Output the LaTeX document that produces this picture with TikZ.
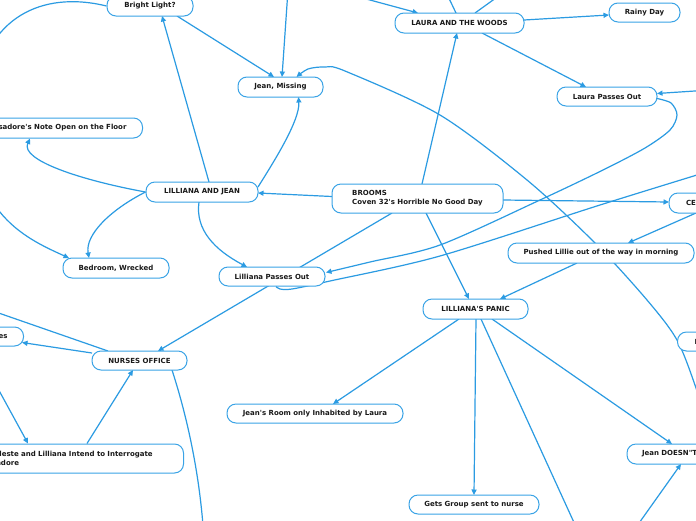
\documentclass[tikz,border=0pt]{standalone}
\usepackage{fontspec}
\setmainfont{DejaVu Sans}
\usetikzlibrary{arrows.meta,calc}
\definecolor{edgec}{RGB}{43,155,226}
\definecolor{boxc}{RGB}{58,163,230}
\definecolor{txt}{RGB}{25,25,25}
\pgfdeclarelayer{edges}
\pgfsetlayers{edges,main}
\begin{document}
\begin{tikzpicture}[x=1pt,y=-1pt,
  box/.style={draw=boxc, fill=white, line width=1pt, rounded corners=9pt, minimum height=20pt,
    inner xsep=0pt, inner ysep=0pt, text=txt, font=\fontsize{7}{9}\selectfont\bfseries},
  conn/.style={draw=edgec, line width=1.2pt},
  arr/.style={conn, -{Triangle[length=5.5pt,width=5pt]}}]
\useasboundingbox (0,0) rectangle (696,520);
\clip (0,0) rectangle (696,520);
% nodes
\node[box, minimum width=86pt] (bright) at (150,6) {Bright Light?};
\node[box, minimum width=85pt] (jm) at (280.5,87) {Jean, Missing};
\node[box, anchor=east, inner xsep=16pt] (note) at (143,128) {Isadore\textquotesingle s Note Open on the Floor};
\node[box, minimum width=112pt] (lj) at (202,192) {LILLIANA AND JEAN};
\node[box, minimum width=106pt] (bedroom) at (116,268) {Bedroom, Wrecked};
\node[box, minimum width=106pt, minimum height=19pt] (lpo) at (272,276.5) {Lilliana Passes Out};
\node[box, minimum width=171pt, minimum height=29pt, align=left] (brooms) at (417.5,198.5) {BROOMS\\Coven 32\textquotesingle s Horrible No Good Day};
\node[box, minimum width=129pt] (laura) at (459.5,23) {LAURA AND THE WOODS};
\node[box, minimum width=71pt, minimum height=19pt] (rainy) at (644.5,12.5) {Rainy Day};
\node[box, minimum width=100pt, minimum height=19pt] (lapo) at (607,96.5) {Laura Passes Out};
\node[box, minimum width=104pt, text width=70pt, align=left] (ce) at (721,203) {CELESTE};
\node[box, minimum width=186pt] (pushed) at (601,253) {Pushed Lillie out of the way in morning};
\node[box, minimum width=105pt] (panic) at (475.5,309) {LILLIANA\textquotesingle S PANIC};
\node[box, anchor=west, inner xsep=17pt, minimum height=19pt] (nn) at (677,341.5) {N};
\node[box, minimum width=122pt, text width=92pt, align=left] (jd) at (688,454) {Jean DOESN\textquotedbl T};
\node[box, minimum width=130pt, minimum height=19pt] (gets) at (474,504.5) {Gets Group sent to nurse};
\node[box, minimum width=176pt, minimum height=19pt] (jroom) at (315,413.5) {Jean\textquotesingle s Room only Inhabited by Laura};
\node[box, minimum width=95pt, minimum height=19pt] (nurses) at (139.5,360.5) {NURSES OFFICE};
\node[box, anchor=east, inner xsep=16pt, minimum height=19pt] (es) at (24,336.5) {es};
\node[box, anchor=east, inner xsep=17pt, text width=177pt, align=left, minimum height=29pt] (celeste) at (184,458.5) {Celeste and Lilliana Intend to Interrogate\\Isadore};
% connectors
\begin{pgfonlayer}{edges}
\fill[white] (0,0) rectangle (696,520);
\clip (0,0) rectangle (696,520);
\draw[arr] (bright.west) .. controls (50,-8) and (-10,10) .. (-25,90) .. controls (-40,210) and (25,238) .. ($(bedroom)+(-47,-10)$);
\draw[arr] ($(bright)+(27,10)$) -- ($(jm)+(-6.5,-10)$);
\coordinate (t1) at (288,-10);
\draw[arr] (t1) -- ($(jm)+(1.5,-10)$);
\coordinate (jmtr) at ($(jm)+(16,-10)$);
\coordinate (far1) at (705,420);
\draw[arr] plot[smooth, tension=0.5] coordinates {(far1) (696,388) (677,340) (647,300) (595,243) (527,180) (440,115) (345,71) (325,67) (308,69) (jmtr)};
\draw[arr] ($(lj)+(56,-5)$) .. controls (275,160) and (300,120) .. ($(jm)+(18,10)$);
\draw[arr] ($(lj)+(7,-10)$) -- ($(bright)+(12,10)$);
\draw[arr] (lj.west) .. controls (80,180) and (20,160) .. ([xshift=-113pt]note.south east);
\draw[arr] (lj.west) .. controls (110,210) and (85,235) .. ($(bedroom)+(-27,-10)$);
\draw[arr] ($(lj)+(-3,10)$) .. controls (195,230) and (215,250) .. ($(lpo)+(-25,-9.5)$);
\draw[arr] ($(brooms)+(-85.5,-2)$) -- ($(lj)+(56,1)$);
\draw[arr] ($(brooms)+(4.5,-14.5)$) -- ($(laura)+(-2.5,10)$);
\draw[arr] ($(brooms)+(85.5,1.5)$) -- ($(ce)+(-52,-1)$);
\draw[arr] ($(brooms)+(8.5,14.5)$) -- ($(panic)+(-6.5,-10)$);
\draw[arr] ($(brooms)+(-25.5,14.5)$) -- ($(nurses)+(18.5,-9.5)$);
\draw[arr] ($(laura)+(64.5,-3)$) -- ($(rainy)+(-35.5,2.5)$);
\draw[arr] ($(laura)+(22.5,10)$) -- ($(lapo)+(-21,-9.5)$);
\coordinate (t2) at (333,-10);
\draw[arr] (t2) -- ($(laura)+(-41.5,-10)$);
\coordinate (t3) at (445,-10);
\draw[conn] ($(laura)+(-3.5,-10)$) -- (t3);
\coordinate (t4) at (507,-10);
\draw[conn] ($(laura)+(15.5,-10)$) -- (t4);
\coordinate (r1) at (710,90);
\draw[arr] (r1) -- ($(lapo)+(50,-3)$);
\coordinate (lapoS) at ($(lapo)+(50,2)$);
\coordinate (lpoR) at ($(lpo)+(54,-4)$);
\draw[arr] plot[smooth, tension=0.5] coordinates {(lapoS) (671,103) (677,115) (670,130) (645,148) (603,170) (540,200) (440,245) (370,262) (lpoR)};
\coordinate (lpoB) at ($(lpo)+(4,10)$);
\coordinate (r2) at (710,171);
\draw[conn] plot[smooth, tension=0.5] coordinates {(lpoB) (280,289) (292,289) (330,281) (440,256) (600,205) (r2)};
\draw[arr] ($(ce)+(-25,10)$) -- ($(pushed)+(27,-10)$);
\draw[arr] ($(pushed)+(-24,10)$) -- ($(panic)+(24.5,-10)$);
\draw[arr] ($(panic)+(-16.5,10)$) -- ($(jroom)+(18,-9.5)$);
\draw[arr] ($(panic)+(0.5,10)$) -- ($(gets)+(0,-9.5)$);
\coordinate (b1) at (582,540);
\draw[conn] ($(panic)+(5.5,10)$) -- (b1);
\draw[arr] ($(panic)+(16.5,10)$) -- ($(jd)+(-16,-10)$);
\coordinate (b2) at (627,540);
\draw[arr] (b2) -- ($(jd)+(-7,10)$);
\draw[arr] ($(nurses)+(-47.5,-7.5)$) -- ($(es.east)+(-2,6)$);
\coordinate (l1) at (-10,310);
\draw[conn] (l1) -- ($(nurses)+(-31.5,-9.5)$);
\coordinate (l2) at (-10,374);
\draw[arr] (l2) -- ([xshift=-156pt]celeste.north east);
\draw[arr] ([xshift=-97pt]celeste.north east) -- ($(nurses)+(-6.5,9.5)$);
\coordinate (b3) at (204,540);
\draw[conn] ($(nurses)+(32.5,9.5)$) .. controls (185,410) and (200,470) .. (b3);
\end{pgfonlayer}
\end{tikzpicture}
\end{document}
